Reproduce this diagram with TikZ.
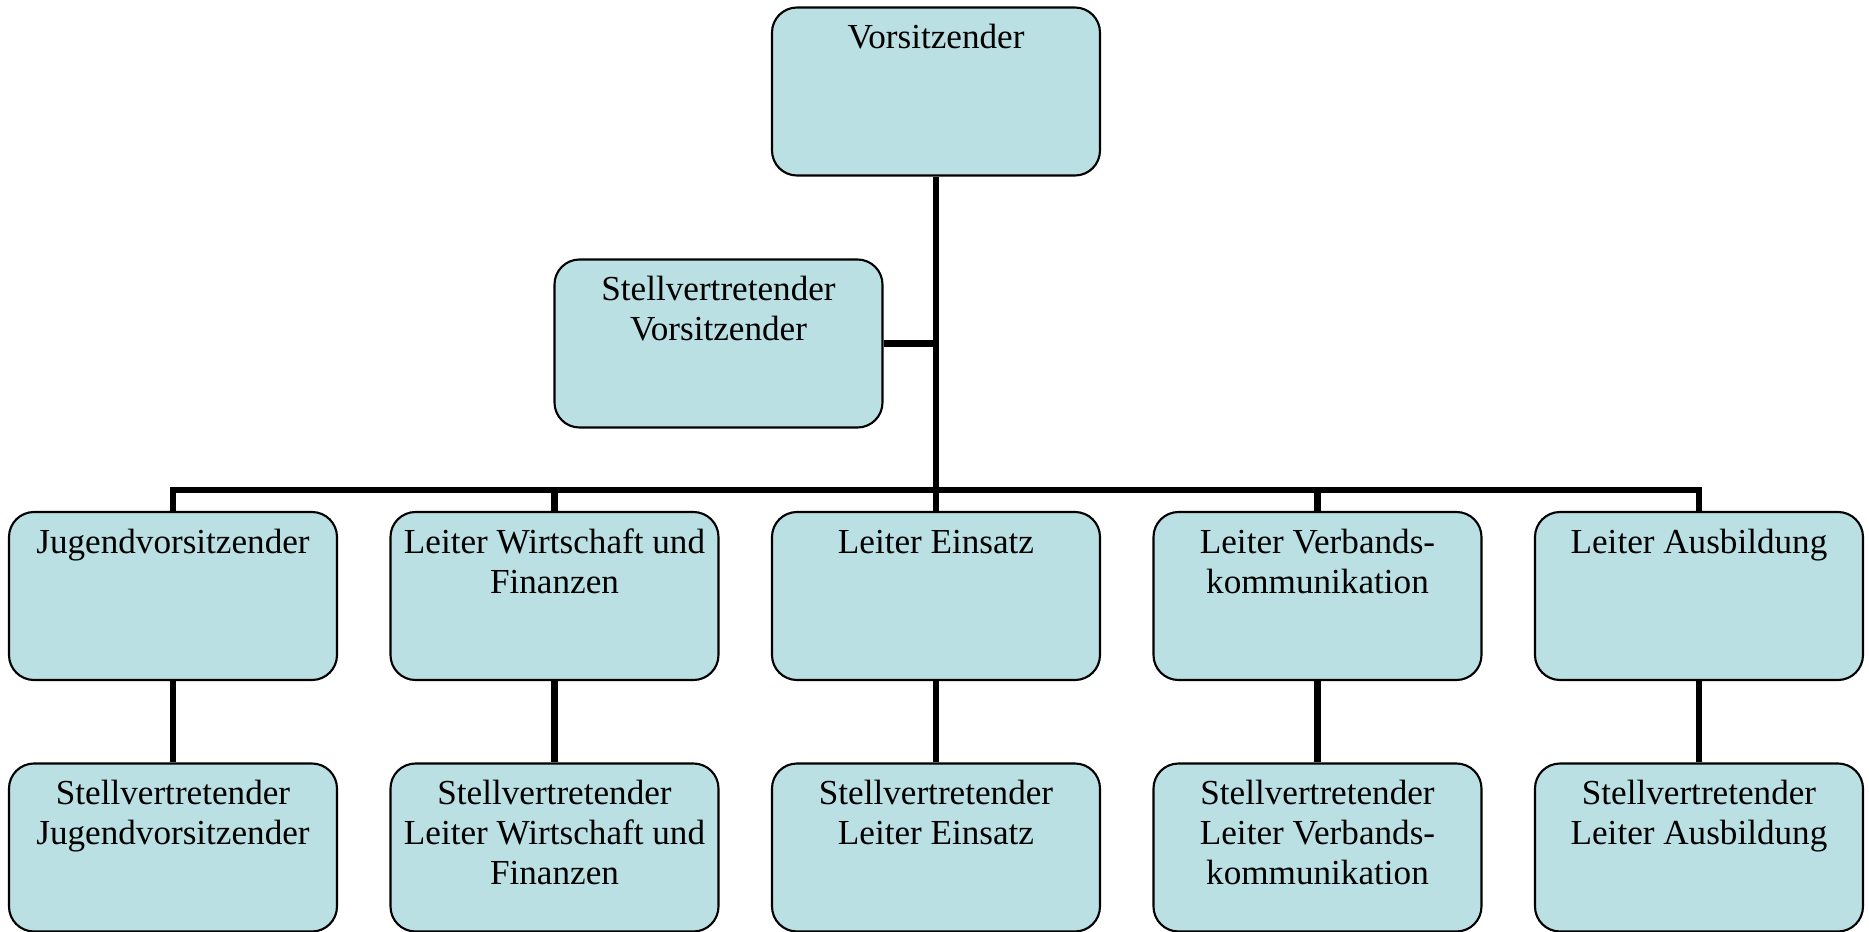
\documentclass[tikz,border=0pt]{standalone}
\usepackage{fontspec}
\setmainfont{Liberation Serif}
\usepackage{xcolor}
\definecolor{amtfarbe}{RGB}{186,224,227}
\newcommand{\posten}[1]{\parbox[c][1.68cm][t]{3.2cm}{\centering\rule{0pt}{0.41cm}#1}}

\begin{document}
\begin{tikzpicture}
\tikzstyle{amt} = [rectangle, rounded corners=0.25cm, draw=black, line width=0.6pt, fill=amtfarbe, inner sep=0pt, minimum width=3.28cm, minimum height=1.68cm, font=\fontsize{10pt}{11.4pt}\selectfont]
\tikzstyle{linie} = [line width=1.8pt]
\useasboundingbox (0,0) rectangle (18.69,-9.32);
\node[amt] (vors) at (9.36,-0.915) {\posten{Vorsitzender}};
\node[amt] (stv) at (7.185,-3.435) {\posten{Stellvertretender\\Vorsitzender}};
% erste Ebene
\node[amt] (jugend) at (1.73,-5.96) {\posten{Jugendvorsitzender}};
\node[amt] (wifi) at (5.545,-5.96) {\posten{Leiter Wirtschaft und\\Finanzen}};
\node[amt] (einsatz) at (9.36,-5.96) {\posten{Leiter Einsatz}};
\node[amt] (verband) at (13.175,-5.96) {\posten{Leiter Verbands-\\kommunikation}};
\node[amt] (ausb) at (16.99,-5.96) {\posten{Leiter Ausbildung}};
% Stellvertreter
\node[amt] (sjugend) at (1.73,-8.475) {\posten{Stellvertretender\\Jugendvorsitzender}};
\node[amt] (swifi) at (5.545,-8.475) {\posten{Stellvertretender\\Leiter Wirtschaft und\\Finanzen}};
\node[amt] (seinsatz) at (9.36,-8.475) {\posten{Stellvertretender\\Leiter Einsatz}};
\node[amt] (sverband) at (13.175,-8.475) {\posten{Stellvertretender\\Leiter Verbands-\\kommunikation}};
\node[amt] (sausb) at (16.99,-8.475) {\posten{Stellvertretender\\Leiter Ausbildung}};
\coordinate (bus) at (9.36,-4.90);
\draw[linie] (vors.south) -- (bus);
\draw[linie] (stv.east) -- (stv.east -| bus);
\foreach \oben/\unten in {jugend/sjugend, wifi/swifi, einsatz/seinsatz, verband/sverband, ausb/sausb}
{
\draw[linie] (bus) -| (\oben.north);
\draw[linie] (\oben.south) -- (\unten.north);
}
\end{tikzpicture}
\end{document}
